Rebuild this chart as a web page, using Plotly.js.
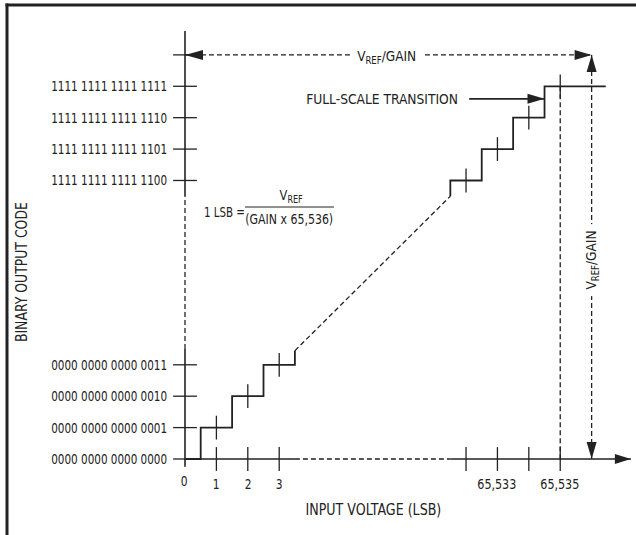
<!DOCTYPE html>
<html>
<head>
<meta charset="utf-8">
<script src="https://cdn.plot.ly/plotly-3.0.1.min.js"></script>
<style>html,body{margin:0;padding:0;background:#fff;}#chart{width:636px;height:535px;}</style>
</head>
<body>
<div id="chart"></div>
<script>
// ---------------- DATA ----------------
// Ideal transfer function: input voltage (LSB) vs output code
const lowStepLSB   = [0, 0.5, 0.5, 1.5, 1.5, 2.5, 2.5, 3.5, 3.5];
const lowStepCode  = [0, 0, 1, 1, 2, 2, 3, 3, 3.45];
const breakLSB     = [3.5, 65531.5];
const breakCode    = [3.45, 65531.5];
const highStepLSB  = [65531.5, 65531.5, 65532.5, 65532.5, 65533.5, 65533.5, 65534.5, 65534.5, 65536.45];
const highStepCode = [65531.5, 65532, 65532, 65533, 65533, 65534, 65534, 65535, 65535];
// code-centre marks on each step
const stepMarkLSB  = [1, 2, 3, 65532, 65533, 65534, 65535];
const stepMarkCode = [1, 2, 3, 65532, 65533, 65534, 65535];
// axes
const xTickLSB     = [1, 2, 3, 65532, 65533, 65534, 65535];
const xLabelLSB    = [0, 1, 2, 3, 65533, 65535];
const xLabelText   = ['0', '1', '2', '3', '65,533', '65,535'];
const yTickCode    = [0, 1, 2, 3, 65532, 65533, 65534, 65535, 65536];
const yLabelCode   = [0, 1, 2, 3, 65532, 65533, 65534, 65535];
const yLabelText   = ['0000 0000 0000 0000', '0000 0000 0000 0001', '0000 0000 0000 0010', '0000 0000 0000 0011',
                      '1111 1111 1111 1100', '1111 1111 1111 1101', '1111 1111 1111 1110', '1111 1111 1111 1111'];
const fullScaleLSB = 65536;            // VREF/GAIN
const fullScaleCode = 65536;
const transitionLSB = 65534.5;         // full-scale transition
const transitionCode = 65534.6;
const xAxisLSB   = [0, 3.5, 65531.5, 65537.25];
const yAxisCode  = [-0.25, 3.5, 65531.5, 65536.76];

// ---------------- SCALE (broken axes) ----------------
const W = 636, H = 535, X0PX = 185, Y0PX = 459, KX = 31.4, KY = 31.4;
function xu(v){ return v < 1000 ? v : v - 65532 + 8.95; }
function yv(c){ return c < 1000 ? c : c - 65532 + 8.87; }
const INK = '#222';
const FONT = "'Liberation Sans Narrow','Arial Narrow','DejaVu Sans Condensed',sans-serif";
const px = x => x / W, py = y => 1 - y / H;

function seg(xs, ys, dash, width){
  return {x: xs.map(xu), y: ys.map(yv), mode: 'lines', hoverinfo: 'skip',
          line: {color: INK, width: width || 1.6, dash: dash || 'solid'}};
}
function marks(xs, ys, sym){
  return {x: xs.map(xu), y: ys.map(yv), mode: 'markers', hoverinfo: 'skip', cliponaxis: false,
          marker: {symbol: sym, size: 17, color: INK, line: {color: INK, width: 1.3}}};
}
// filled arrowhead, tip at data point, sizes in pixels
function arrow(lsb, code, dir, len, hw){
  const tx = xu(lsb), ty = yv(code), L = len, h = hw;
  let pts;
  if(dir === 'right') pts = [[0,0],[-L, h],[-L,-h]];
  if(dir === 'left')  pts = [[0,0],[ L, h],[ L,-h]];
  if(dir === 'up')    pts = [[0,0],[ h,-L],[-h,-L]];
  if(dir === 'down')  pts = [[0,0],[ h, L],[-h, L]];
  const p = pts.map(q => (tx + q[0]/KX) + ',' + (ty + q[1]/KY));
  return {type: 'path', xref: 'x', yref: 'y', path: 'M' + p.join('L') + 'Z',
          fillcolor: INK, line: {width: 0}};
}

const traces = [
  seg([xAxisLSB[0], xAxisLSB[1]], [0, 0], 'solid', 1.6),
  seg([xAxisLSB[1], xAxisLSB[2]], [0, 0], '5px,3px', 1.3),
  seg([xAxisLSB[2], xAxisLSB[3]], [0, 0], 'solid', 1.6),
  seg([0, 0], [yAxisCode[0], yAxisCode[1]], 'solid', 1.6),
  seg([0, 0], [yAxisCode[1], yAxisCode[2]], '5px,3px', 1.3),
  seg([0, 0], [yAxisCode[2], yAxisCode[3]], 'solid', 1.6),
  seg(lowStepLSB, lowStepCode, 'solid', 1.8),
  seg(breakLSB, breakCode, '5px,3px', 1.3),
  seg(highStepLSB, highStepCode, 'solid', 1.8),
  seg([65535, 65535], [65535, 0], '5px,3px', 1.3),
  seg([fullScaleLSB, fullScaleLSB], [fullScaleCode, 0], '5px,3px', 1.3),
  seg([0, fullScaleLSB], [fullScaleCode, fullScaleCode], '5px,3px', 1.3),
  seg([65532.1, transitionLSB], [transitionCode, transitionCode], 'solid', 1.6),
  marks(stepMarkLSB, stepMarkCode, 'line-ns'),
  marks(xTickLSB, xTickLSB.map(() => 0), 'line-ns'),
  marks(yTickCode.map(() => 0), yTickCode, 'line-ew')
];

const shapes = [
  arrow(xAxisLSB[3], 0, 'right', 16, 5),
  arrow(0, fullScaleCode, 'left', 18, 5),
  arrow(fullScaleLSB, fullScaleCode, 'right', 17, 5),
  arrow(fullScaleLSB, fullScaleCode, 'up', 17, 5),
  arrow(fullScaleLSB, 0, 'down', 17, 5),
  arrow(transitionLSB, transitionCode, 'right', 17, 5),
  {type: 'line', xref: 'paper', yref: 'paper', x0: px(245), x1: px(334), y0: py(207), y1: py(207),
   line: {color: INK, width: 1.2}},
  {type: 'line', xref: 'paper', yref: 'paper', x0: px(5.5), x1: 1, y0: py(5), y1: py(5), line: {color: INK, width: 3}},
  {type: 'line', xref: 'paper', yref: 'paper', x0: px(7), x1: px(7), y0: py(3.5), y1: 0, line: {color: INK, width: 3}}
];

const tf = {family: FONT, size: 14.5, color: INK};
const tf15 = {family: FONT, size: 15, color: INK};
const annotations = [];
const fit = [];   // horizontal fit of each text (condensed face emulation)
yLabelCode.forEach((c, i) => {
  annotations.push({x: xu(0), y: yv(c), xref: 'x', yref: 'y', text: yLabelText[i],
    showarrow: false, xanchor: 'right', yanchor: 'middle', xshift: -16, font: tf});
  fit.push({w: 116});
});
xLabelLSB.forEach((v, i) => {
  annotations.push({x: xu(v), y: yv(0), xref: 'x', yref: 'y', text: xLabelText[i],
    showarrow: false, xanchor: 'center', yanchor: 'middle', yshift: v === 0 ? -22 : -25, xshift: v === 0 ? -1 : 0, font: tf});
  fit.push(xLabelText[i].length > 1 ? {w: 39} : {s: 0.82});
});
function add(a, f){ annotations.push(a); fit.push(f); }
add({x: px(373), y: py(510), xref: 'paper', yref: 'paper', text: 'INPUT VOLTAGE (LSB)', showarrow: false,
     xanchor: 'center', yanchor: 'middle', font: tf15}, {w: 136});
add({x: px(22), y: py(272), xref: 'paper', yref: 'paper', text: 'BINARY OUTPUT CODE', showarrow: false, textangle: -90,
     xanchor: 'center', yanchor: 'middle', font: tf15}, {w: 140});
add({x: px(386), y: py(57), xref: 'paper', yref: 'paper', text: 'V<sub>REF</sub>/GAIN', showarrow: false,
     xanchor: 'center', yanchor: 'middle', bgcolor: '#fff', borderpad: 4, font: tf}, {w: 59});
add({x: xu(fullScaleLSB), y: py(260), xref: 'x', yref: 'paper', text: 'V<sub>REF</sub>/GAIN', showarrow: false, textangle: -90,
     xanchor: 'center', yanchor: 'middle', bgcolor: '#fff', borderpad: 4, font: tf}, {w: 59});
add({x: px(460), y: py(99), xref: 'paper', yref: 'paper', text: 'FULL-SCALE TRANSITION', showarrow: false,
     xanchor: 'right', yanchor: 'middle', font: tf}, {w: 152});
add({x: px(202), y: py(212), xref: 'paper', yref: 'paper', text: '1 LSB =', showarrow: false,
     xanchor: 'left', yanchor: 'middle', font: tf}, {w: 41});
add({x: px(291), y: py(196), xref: 'paper', yref: 'paper', text: 'V<sub>REF</sub>', showarrow: false,
     xanchor: 'center', yanchor: 'middle', font: tf}, {w: 23});
add({x: px(289), y: py(219), xref: 'paper', yref: 'paper', text: '(GAIN x 65,536)', showarrow: false,
     xanchor: 'center', yanchor: 'middle', font: tf}, {w: 88});

const layout = {
  width: W, height: H, margin: {l: 0, r: 0, t: 0, b: 0},
  paper_bgcolor: '#fff', plot_bgcolor: '#fff', showlegend: false,
  xaxis: {range: [-X0PX / KX, (W - X0PX) / KX], visible: false, fixedrange: true},
  yaxis: {range: [-(H - Y0PX) / KY, Y0PX / KY], visible: false, fixedrange: true},
  shapes: shapes, annotations: annotations
};
Plotly.newPlot('chart', traces, layout, {staticPlot: true, displayModeBar: false}).then(gd => {
  gd.querySelectorAll('.annotation').forEach(g => {
    const i = +g.getAttribute('data-index');
    const t = g.querySelector('.annotation-text');
    const f = fit[i];
    if(!t || !f) return;
    const bw = t.getBBox().width;
    const s = f.s ? f.s : (bw > 0 ? f.w / bw : 1);
    const xa = annotations[i].xanchor;
    t.style.transformBox = 'fill-box';
    t.style.transformOrigin = xa === 'right' ? 'right center' : (xa === 'left' ? 'left center' : 'center');
    t.style.transform = 'scaleX(' + s.toFixed(4) + ')';
  });
});
</script>
</body>
</html>
